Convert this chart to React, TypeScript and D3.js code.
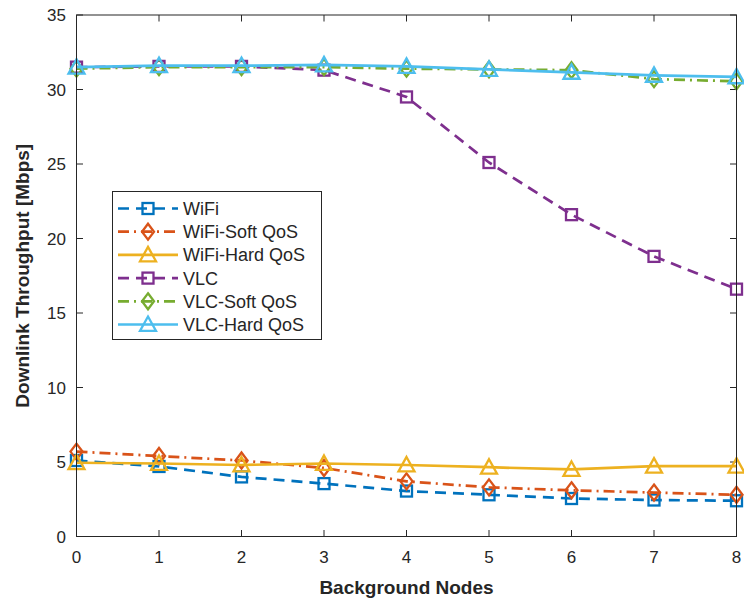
import React from "react";
import * as d3 from "d3";

const nodes = [0, 1, 2, 3, 4, 5, 6, 7, 8];
const wifi = [5.1, 4.7, 4.0, 3.55, 3.05, 2.8, 2.55, 2.45, 2.4];
const wifiSoft = [5.7, 5.4, 5.1, 4.6, 3.7, 3.3, 3.1, 2.95, 2.8];
const wifiHard = [4.95, 4.9, 4.8, 4.9, 4.8, 4.65, 4.5, 4.72, 4.72];
const vlc = [31.5, 31.55, 31.55, 31.3, 29.5, 25.1, 21.6, 18.8, 16.6];
const vlcSoft = [31.4, 31.5, 31.5, 31.5, 31.4, 31.35, 31.3, 30.7, 30.55];
const vlcHard = [31.5, 31.6, 31.6, 31.65, 31.55, 31.35, 31.15, 30.95, 30.85];
const xTicks = [0, 1, 2, 3, 4, 5, 6, 7, 8];
const yTicks = [0, 5, 10, 15, 20, 25, 30, 35];

const seriesNames = ["WiFi", "WiFi-Soft QoS", "WiFi-Hard QoS", "VLC", "VLC-Soft QoS", "VLC-Hard QoS"];
const seriesData = [wifi, wifiSoft, wifiHard, vlc, vlcSoft, vlcHard];
const colors = ["#0072BD", "#D95319", "#EDB120", "#7E2F8E", "#77AC30", "#4DBEEE"];
const dashes = ["11,7", "11,5,2,5", "", "11,7", "11,5,2,5", ""];
const markers = ["square", "diamond", "triangle", "square", "diamond", "triangle"];

const W = 744, H = 602;
const L = 76.5, R = 736.5, T = 15, B = 536.5;
const font = "'Liberation Sans', Arial, Helvetica, sans-serif";

function Marker({ type, x, y, color }: { type: string; x: number; y: number; color: string }) {
  if (type === "square") {
    return <rect x={x - 5.5} y={y - 5.5} width={11} height={11} fill="none" stroke={color} strokeWidth={2.3} />;
  }
  if (type === "diamond") {
    const s = 8;
    return <path d={`M${x},${y - s}L${x + s * 0.75},${y}L${x},${y + s}L${x - s * 0.75},${y}Z`} fill="none" stroke={color} strokeWidth={2.3} />;
  }
  const s = 8;
  return <path d={`M${x},${y - s}L${x + s},${y + s * 0.8}L${x - s},${y + s * 0.8}Z`} fill="none" stroke={color} strokeWidth={2.3} />;
}

export default function App() {
  const x = d3.scaleLinear().domain([0, 8]).range([L, R]);
  const y = d3.scaleLinear().domain([0, 35]).range([B, T]);
  const line = d3.line<number>().x((_, i) => x(nodes[i])).y((d) => y(d));

  const legX = 112.5, legY = 191.5, legW = 209, legH = 148, legStep = 23.2;

  return (
    <svg width={W} height={H} style={{ position: "absolute", left: 0, top: 0, background: "#fff" }} fontFamily={font}>
      <rect x={0} y={0} width={W} height={H} fill="#fff" />
      {xTicks.map((t) => (
        <g key={"xt" + t}>
          <line x1={x(t)} x2={x(t)} y1={B} y2={B - 6.5} stroke="#262626" strokeWidth={1} />
          <line x1={x(t)} x2={x(t)} y1={T} y2={T + 6.5} stroke="#262626" strokeWidth={1} />
          <text x={x(t)} y={563} textAnchor="middle" fontSize={17} fill="#262626">{t}</text>
        </g>
      ))}
      {yTicks.map((t) => (
        <g key={"yt" + t}>
          <line x1={L} x2={L + 6.5} y1={y(t)} y2={y(t)} stroke="#262626" strokeWidth={1} />
          <line x1={R} x2={R - 6.5} y1={y(t)} y2={y(t)} stroke="#262626" strokeWidth={1} />
          <text x={66} y={y(t) + 6} textAnchor="end" fontSize={17} fill="#262626">{t}</text>
        </g>
      ))}
      {seriesData.map((data, si) => (
        <g key={"s" + si}>
          <path d={line(data) || ""} fill="none" stroke={colors[si]} strokeWidth={2.7} strokeDasharray={dashes[si]} />
          {data.map((v, i) => (
            <Marker key={i} type={markers[si]} x={x(nodes[i])} y={y(v)} color={colors[si]} />
          ))}
        </g>
      ))}
      <rect x={L} y={T} width={R - L} height={B - T} fill="none" stroke="#262626" strokeWidth={1} />
      <text x={(L + R) / 2} y={594} textAnchor="middle" fontSize={19} fontWeight="bold" fill="#262626">Background Nodes</text>
      <text transform={`translate(29,${(T + B) / 2}) rotate(-90)`} textAnchor="middle" fontSize={19} fontWeight="bold" fill="#262626">Downlink Throughput [Mbps]</text>
      <rect x={legX} y={legY} width={legW} height={legH} fill="#fff" stroke="#262626" strokeWidth={1} />
      {seriesNames.map((name, i) => {
        const cy = legY + 17 + i * legStep;
        return (
          <g key={"l" + i}>
            <line x1={118} x2={178} y1={cy} y2={cy} stroke={colors[i]} strokeWidth={2.7} strokeDasharray={dashes[i]} />
            <Marker type={markers[i]} x={148} y={cy} color={colors[i]} />
            <text x={183} y={cy + 6.5} fontSize={18} fill="#262626">{name}</text>
          </g>
        );
      })}
    </svg>
  );
}
